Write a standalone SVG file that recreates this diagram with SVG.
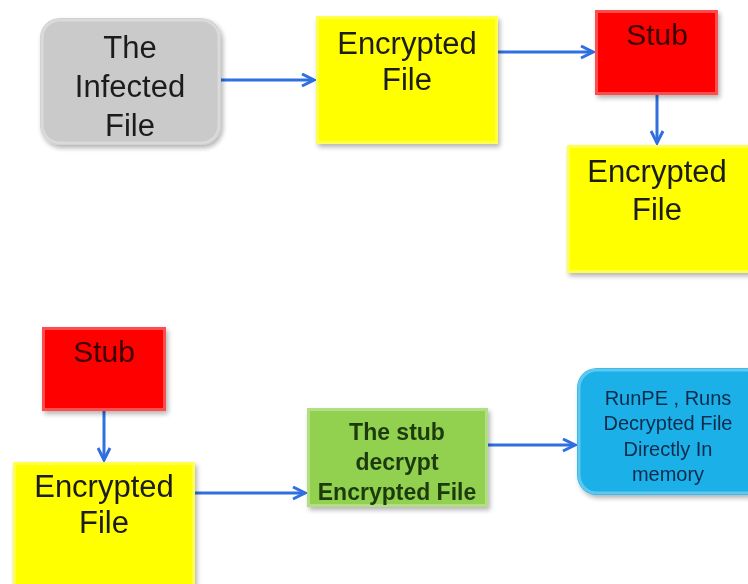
<svg xmlns="http://www.w3.org/2000/svg" width="748" height="584" viewBox="0 0 748 584">
<defs>
<filter id="sh" x="-10%" y="-10%" width="125%" height="125%">
<feGaussianBlur in="SourceAlpha" stdDeviation="2.5"/>
<feOffset dx="2" dy="3" result="b"/>
<feComponentTransfer><feFuncA type="linear" slope="0.3"/></feComponentTransfer>
<feMerge><feMergeNode/><feMergeNode in="SourceGraphic"/></feMerge>
</filter>
<marker id="ah" viewBox="0 0 10 10" refX="9" refY="5" markerWidth="5" markerHeight="5" orient="auto" markerUnits="strokeWidth">
<path d="M1,1 L9,5 L1,9" fill="none" stroke="#2f6fe0" stroke-width="2"/>
</marker>
</defs>
<style>
.t{font-family:"Liberation Sans",Arial,sans-serif;text-anchor:middle}
.big{font-size:31px;fill:#1a1a1a}
.stub{font-size:30px;fill:#3a0505}
.grn{font-size:23px;fill:#1f3a0e;font-weight:bold}
.blu{font-size:20px;fill:#0c2c4c}
.conn{stroke:#2f6fe0;stroke-width:3;fill:none;marker-end:url(#ah)}
.bev{fill:none;stroke:#ffffff;stroke-opacity:0.3;stroke-width:3}
</style>
<rect width="748" height="584" fill="#ffffff"/>

<g id="connectors">
<line class="conn" x1="221" y1="80" x2="314" y2="80"/>
<line class="conn" x1="498" y1="52" x2="593" y2="52"/>
<line class="conn" x1="657" y1="95" x2="657" y2="143"/>
<line class="conn" x1="104" y1="411" x2="104" y2="460"/>
<line class="conn" x1="195" y1="493" x2="305" y2="493"/>
<line class="conn" x1="488" y1="445" x2="575" y2="445"/>
</g>

<g id="infected" filter="url(#sh)">
<rect x="40" y="18" width="181" height="127" rx="20" fill="#cacaca"/>
<rect x="42" y="20" width="177" height="123" rx="18" class="bev"/>
<text class="t big" x="130" y="58">The</text>
<text class="t big" x="130" y="97">Infected</text>
<text class="t big" x="130" y="136">File</text>
</g>

<g id="encrypted1" filter="url(#sh)">
<rect x="316" y="16" width="182" height="128" fill="#ffff00"/>
<rect x="317.5" y="17.5" width="179" height="125" class="bev"/>
<text class="t big" x="407" y="54">Encrypted</text>
<text class="t big" x="407" y="90">File</text>
</g>

<g id="stub1" filter="url(#sh)">
<rect x="595" y="10" width="123" height="85" fill="#ff0000"/>
<rect x="596.5" y="11.5" width="120" height="82" class="bev"/>
<text class="t stub" x="657" y="45">Stub</text>
</g>

<g id="encrypted2" filter="url(#sh)">
<rect x="567" y="145" width="185" height="128" fill="#ffff00"/>
<rect x="568.5" y="146.5" width="182" height="125" class="bev"/>
<text class="t big" x="657" y="182">Encrypted</text>
<text class="t big" x="657" y="220">File</text>
</g>

<g id="stub2" filter="url(#sh)">
<rect x="42" y="327" width="124" height="84" fill="#ff0000"/>
<rect x="43.5" y="328.5" width="121" height="81" class="bev"/>
<text class="t stub" x="104" y="362">Stub</text>
</g>

<g id="encrypted3" filter="url(#sh)">
<rect x="13" y="462" width="182" height="126" fill="#ffff00"/>
<rect x="14.5" y="463.5" width="179" height="123" class="bev"/>
<text class="t big" x="104" y="497">Encrypted</text>
<text class="t big" x="104" y="533">File</text>
</g>

<g id="decrypt" filter="url(#sh)">
<rect x="307" y="408" width="181" height="99" fill="#92d050"/>
<rect x="308.5" y="409.5" width="178" height="96" class="bev"/>
<text class="t grn" x="397" y="440">The stub</text>
<text class="t grn" x="397" y="470">decrypt</text>
<text class="t grn" x="397" y="500">Encrypted File</text>
</g>

<g id="runpe" filter="url(#sh)">
<rect x="577" y="368" width="190" height="127" rx="20" fill="#1cb0e8"/>
<rect x="579" y="370" width="186" height="123" rx="18" class="bev"/>
<text class="t blu" x="668" y="405">RunPE , Runs</text>
<text class="t blu" x="668" y="430">Decrypted File</text>
<text class="t blu" x="668" y="456">Directly In</text>
<text class="t blu" x="668" y="481">memory</text>
</g>
</svg>
